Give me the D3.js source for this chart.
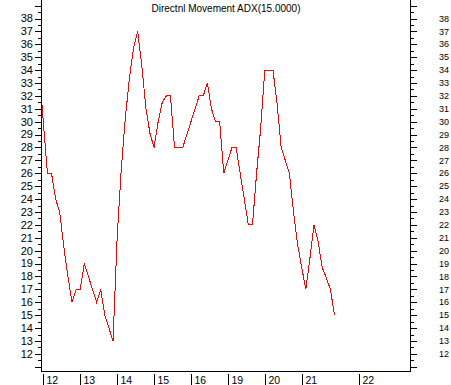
<!DOCTYPE html>
<html><head><meta charset="utf-8">
<script src="https://cdn.jsdelivr.net/npm/d3@7/dist/d3.min.js"></script>
<style>body{margin:0;background:#fff}svg{display:block}text{font-family:Arial,"Liberation Sans",sans-serif;fill:#000}</style>
</head><body>
<svg id="c" width="451" height="385"></svg>
<script>
const title = "Directnl Movement ADX(15.0000)";
const xLabels = ["12","13","14","15","16","19","20","21","22"];
const xLabelIdx = [0,9,18,27,36,45,54,63,77];
const startIndex = -1;
const adx = [34,30,26,26,24,23,20.3,18,16,17,17,19,18,17,16,17,15,14,13,
  21,26.3,30.3,33.4,35.7,37,34.4,31.1,29.1,28,30,31.5,32,32,28,28,28,29,30,31,
  32,32,33,31,30,30,26,27,28,28,26,24,22,22,26,29.5,34,34,34,31.4,28,27,26,23,
  20.5,18.7,17,19.4,22,20.7,18.7,17.9,17,15];
const yMajor = d3.range(11, 40, 1);
const yMinor = d3.range(11.5, 39.5, 1);
const yLabels = d3.range(12, 39, 1);

const svg = d3.select("#c");
const x = d3.scaleLinear().domain([0, 63]).range([43.3, 301.7]);
const y = d3.scaleLinear().domain([12, 38]).range([353.9, 18.5]);
const L = 41.5, R = 410.5, B = 371.5;

svg.append("defs").append("clipPath").attr("id","clip")
  .append("rect").attr("x",42).attr("y",0).attr("width",368).attr("height",371);

const ax = svg.append("g").attr("stroke","#000").attr("shape-rendering","crispEdges");
ax.append("line").attr("x1",L).attr("x2",L).attr("y1",0).attr("y2",B);
ax.append("line").attr("x1",R).attr("x2",R).attr("y1",0).attr("y2",B);
ax.append("line").attr("x1",L).attr("x2",R).attr("y1",B).attr("y2",B);

// y ticks
yMajor.forEach(v=>{
  const yy = Math.round(y(v))+0.5;
  ax.append("line").attr("x1",35).attr("x2",L).attr("y1",yy).attr("y2",yy);
  ax.append("line").attr("x1",R).attr("x2",417).attr("y1",yy).attr("y2",yy);
});
yMinor.forEach(v=>{
  const yy = Math.round(y(v))+0.5;
  ax.append("line").attr("x1",38).attr("x2",L).attr("y1",yy).attr("y2",yy);
  ax.append("line").attr("x1",R).attr("x2",414).attr("y1",yy).attr("y2",yy);
});
yLabels.forEach(v=>{
  svg.append("text").attr("x",33).attr("y",y(v)).attr("dy","0.35em")
    .attr("text-anchor","end").attr("font-size","11px").text(v);
  svg.append("text").attr("x",439).attr("y",y(v)).attr("dy","0.35em")
    .attr("text-anchor","start").attr("font-size","9px").text(v);
});

// x ticks
xLabelIdx.forEach((k,i)=>{
  const xx = Math.round(x(k))+0.5;
  ax.append("line").attr("x1",xx).attr("x2",xx).attr("y1",374).attr("y2",385);
  svg.append("text").attr("x",xx+3).attr("y",384).attr("font-size","10.5px").text(xLabels[i]);
});

// title
svg.append("text").attr("x",226).attr("y",12).attr("text-anchor","middle")
  .attr("font-size","10px").text(title);

// line
const line = d3.line().x((d,i)=>x(i+startIndex)).y(d=>y(d));
svg.append("path").datum(adx).attr("clip-path","url(#clip)")
  .attr("d",line).attr("fill","none").attr("stroke","#ff0000").attr("stroke-width",1)
  .attr("shape-rendering","crispEdges");
</script>
</body></html>
